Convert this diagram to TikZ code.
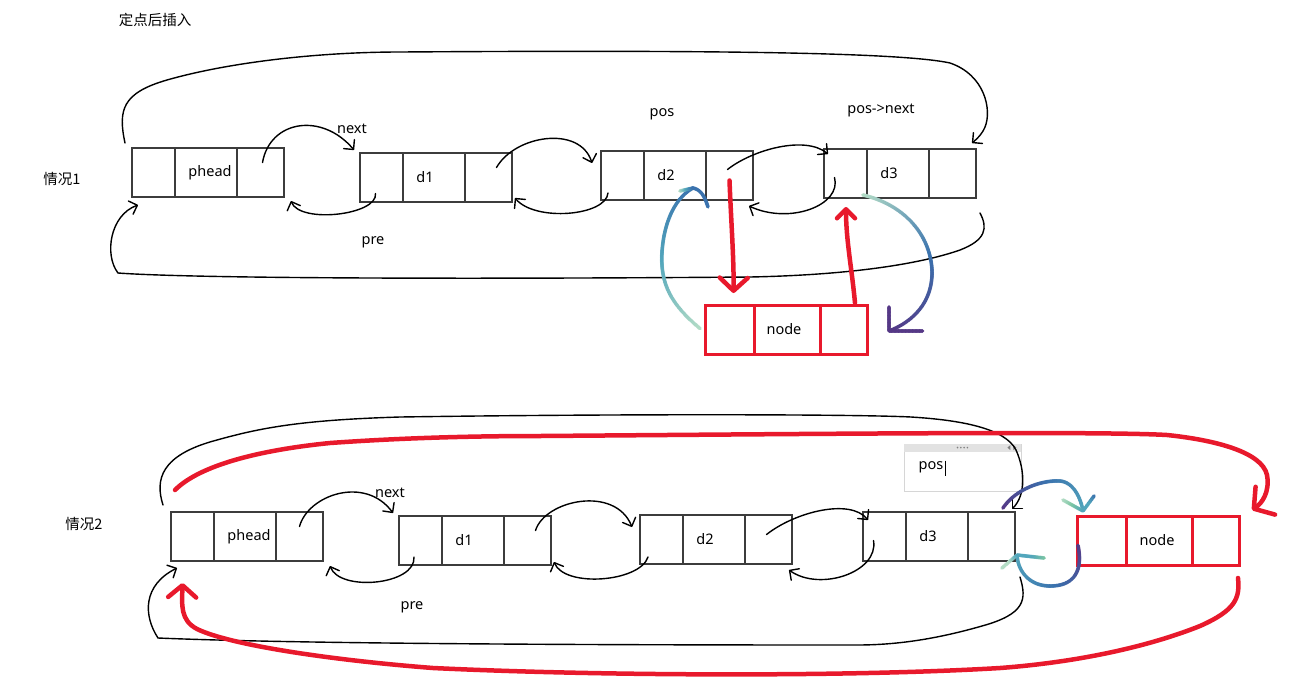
\documentclass[tikz,border=0pt]{standalone}
\usepackage{fontspec}
\setmainfont{Noto Sans}
\newfontfamily\cjk{Noto Sans CJK SC}
\usetikzlibrary{arrows.meta,calc,positioning,decorations.markings}
\definecolor{boxline}{HTML}{3C3C3C}
\definecolor{hotred}{HTML}{E8192C}
\definecolor{bpale}{HTML}{B4DDC6}
\definecolor{bgreen}{HTML}{7CC6A4}
\definecolor{bteal}{HTML}{52A6BC}
\definecolor{bblue}{HTML}{3A72AE}
\definecolor{bpurp}{HTML}{553886}
\definecolor{panelfill}{HTML}{E2E2E2}
\definecolor{panelline}{HTML}{D6D6D6}
\tikzset{
        cell/.style = {draw=boxline, line width=1.2pt, minimum height=49pt,
            inner sep=0pt, outer sep=0pt},
        hotcell/.style = {cell, draw=hotred, line width=3pt},
        lbl/.style = {inner sep=0pt, font=\fontsize{14.5}{16}\selectfont},
        hand/.style = {draw, line width=1.4pt, line cap=round,
            -{Straight Barb[length=7pt,width=14pt,round]}},
        hot/.style = {draw=hotred, line width=4.5pt, line cap=round,
            -{Straight Barb[length=13pt,width=28pt,round]}},
        panel/.style = {draw=panelline, fill=white, line width=0.8pt,
            minimum width=117pt, minimum height=47pt, inner sep=0pt},
        brush/.style n args = {3}{
            decoration={markings,
              mark=between positions 0 and 1 step 0.7pt with {%
                \pgfmathsetmacro\brf{(\pgfkeysvalueof{/pgf/decoration/mark info/distance from start})/(\pgfdecoratedpathlength)}%
                \ifdim\brf pt<0.5pt
                  \pgfmathtruncatemacro\brp{min(100,max(0,200*\brf))}%
                  \colorlet{brc}{#2!\brp!#1}%
                \else
                  \pgfmathtruncatemacro\brp{min(100,max(0,200*\brf-100))}%
                  \colorlet{brc}{#3!\brp!#2}%
                \fi
                \fill[brc] (0,0) circle (1.9pt);
              }},
            decorate},
    }
% list node: name, top left corner, text, text shift
\newcommand{\listnode}[4]{%
  \node[cell, minimum width=43pt, anchor=north west] (#1l) at (#2) {};
  \node[cell, minimum width=62pt, right=0pt of #1l] (#1m) {};
  \node[cell, minimum width=47pt, right=0pt of #1m] (#1r) {};
  \node[lbl] (#1t) at ([xshift=#4]#1m.center) {#3};
}
% inserted node in red
\newcommand{\insnode}[4]{%
  \node[hotcell, minimum width=49pt, anchor=north west] (#1l) at (#2) {};
  \node[hotcell, minimum width=66pt, right=0pt of #1l] (#1m) {};
  \node[hotcell, minimum width=47pt, right=0pt of #1m] (#1r) {};
  \node[lbl] (#1t) at ([xshift=#4]#1m.center) {#3};
}

\begin{document}
\begin{tikzpicture}[x=1pt,y=-1pt]
\path[use as bounding box, fill=white] (0,0) rectangle (1314,694);

\node[lbl] (title) at (155,20) {\cjk 定点后插入};
\node[lbl] (case1) at (62,179) {\cjk 情况1};
\node[lbl] (case2) at (84,524) {\cjk 情况2};

% case 1
\listnode{h1}{132,148}{phead}{4pt}
\listnode{a1}{360,153}{d1}{-9pt}
\listnode{b1}{601,151}{d2}{-9pt}
\listnode{c1}{824,149}{d3}{-9pt}
\insnode{n1}{705,305}{node}{-3pt}

\node[lbl] (nx1) at (352,129) {next};
\node[lbl] (pr1) at (373,242) {pre};
\node[lbl] (pos1) at (662,114) {pos};
\node[lbl] (pn1) at (881,110) {pos->next};

\draw[hand] ([shift={(2,-10)}]h1r.center) .. controls (270,120) and (322,112) .. ([shift={(-6,-3)}]a1l.north west);
\draw[hand] ([shift={(-6,16)}]a1l.center) .. controls (378,215) and (300,224) .. ([shift={(7,4)}]h1r.south east);
\draw[hand] ([shift={(8,-10)}]a1r.center) .. controls (515,135) and (580,125) .. ([shift={(-9,12)}]b1l.north west);
\draw[hand] ([shift={(7,-7)}]b1l.south west) .. controls (606,216) and (535,222) .. ([shift={(3,-4)}]a1r.south east);
\draw[hand] ([shift={(-2,-6)}]b1r.center) .. controls (752,150) and (805,135) .. ([shift={(4,5)}]c1l.north west);
\draw[hand] ([shift={(-11,4)}]c1l.center) .. controls (842,205) and (790,225) .. ([shift={(-4,6)}]b1r.south east);
\draw[hand] ([shift={(-7,-5)}]h1l.north west) .. controls (118,110) and (122,93) .. (167,80)
    .. controls (230,62) and (320,52) .. (400,52) .. controls (700,50) and (900,52) .. (950,63)
    .. controls (985,75) and (992,110) .. (985,127) .. controls (982,134) and (978,138) .. ([shift={(-4,-6)}]c1r.north east);
\draw[hand] ([shift={(4,15)}]c1r.south east) .. controls (988,228) and (986,240) .. (960,250)
    .. controls (920,264) and (850,275) .. (750,277) .. controls (500,279) and (200,279) .. (118,273)
    .. controls (104,255) and (110,215) .. ([shift={(6,8)}]h1l.south west);

\draw[hot] ([shift={(0,5)}]b1r.center) .. controls (731,220) and (734,260) .. ([shift={(4,-12)}]n1l.north);
\draw[hot, -{Straight Barb[length=9pt,width=18pt,round]}] ([shift={(11.5,-2)}]n1r.north) .. controls (852,270) and (846,240) .. ([shift={(0.5,9)}]c1l.south);

\coordinate (t1) at ([shift={(-13,-12)}]b1m.south east);
\path[brush={bpale}{bteal}{bblue}] ([shift={(-5,-1)}]n1l.west) .. controls (672,305) and (660,285) .. (662,252)
    .. controls (664,222) and (675,198) .. (t1);
\path[brush={bpale}{bteal}{bblue}] ([shift={(-13,3)}]t1) -- (t1);
\path[brush={bblue}{bblue}{bblue}] (t1) .. controls (702,190) and (705,198) .. ([shift={(15,19)}]t1);
\coordinate (t2) at ([shift={(22,26)}]n1r.north east);
\path[brush={bpale}{bblue}{bpurp}] ([shift={(-4,-3)}]c1m.south west) .. controls (905,205) and (930,235) .. (932,270)
    .. controls (933,303) and (912,322) .. (t2);
\path[brush={bpurp}{bpurp}{bpurp}] ([shift={(0,-24)}]t2) -- (t2) -- ([shift={(34,0)}]t2);

% case 2
\node[panel] (pb) at (962.5,467.5) {};
\fill[panelfill] ([shift={(0.4,0.4)}]pb.north west) rectangle ([shift={(-0.4,8)}]pb.north east);
\foreach \i in {0,...,3}
  \fill[gray] ([shift={(-5+\i*3.3,4)}]pb.north) circle (0.9pt);
\fill[gray] ([shift={(-14,4)}]pb.north east) -- ++(3,-2.5) -- ++(0,5) -- cycle;
\fill[gray] ([shift={(-5,4)}]pb.north east) -- ++(-3,-2.5) -- ++(0,5) -- cycle;
\node[lbl] (pt) at ([shift={(-31.5,0)}]pb.center) {pos};
\draw[line width=0.8pt] ([shift={(1.5,-7)}]pt.east) -- ([shift={(1.5,8)}]pt.east);

\listnode{h2}{171,512}{phead}{4pt}
\listnode{a2}{399,516}{d1}{-9pt}
\listnode{b2}{640,515}{d2}{-9pt}
\listnode{c2}{863,512}{d3}{-9pt}
\insnode{n2}{1077,516}{node}{-2pt}

\node[lbl] (nx2) at (390,493) {next};
\node[lbl] (pr2) at (412,607) {pre};

\draw[hand] ([shift={(0,-10)}]h2r.center) .. controls (308,495) and (365,475) .. ([shift={(-6,-3)}]a2l.north west);
\draw[hand] ([shift={(15,-8)}]a2l.south west) .. controls (416,585) and (340,592) .. ([shift={(7,5)}]h2r.south east);
\draw[hand] ([shift={(8,-10)}]a2r.center) .. controls (545,500) and (615,485) .. ([shift={(-8,12)}]b2l.north west);
\draw[hand] ([shift={(8,-7)}]b2l.south west) .. controls (640,582) and (565,588) .. ([shift={(3,-3)}]a2r.south east);
\draw[hand] ([shift={(-2,-5)}]b2r.center) .. controls (795,512) and (850,498) .. ([shift={(5,8)}]c2l.north west);
\draw[hand] ([shift={(-11,4)}]c2l.center) .. controls (879,572) and (820,592) .. ([shift={(-3,6)}]b2r.south east);
\draw[hand] ([shift={(-8,-7)}]h2l.north west) .. controls (155,480) and (160,455) .. (217,440)
    .. controls (260,428) and (300,420) .. (400,417) .. controls (600,414) and (850,414) .. (911,417)
    .. controls (960,420) and (1005,428) .. (1016,450) .. controls (1025,470) and (1026,495) .. ([shift={(-3,-3)}]c2r.north east);
\draw[hand] ([shift={(5,16)}]c2r.south east) .. controls (1027,600) and (1025,614) .. (982,626)
    .. controls (940,638) and (900,645) .. (857,645) .. controls (600,645) and (300,644) .. (158,638)
    .. controls (143,615) and (143,585) .. ([shift={(6,7)}]h2l.south west);

\draw[hot, -{Straight Barb[length=14pt,width=34pt,round]}] ([shift={(4,-22)}]h2l.north west) .. controls (200,465) and (260,450) .. (330,443)
    .. controls (400,438) and (470,436) .. (540,436) .. controls (800,434) and (1100,431) .. (1167,435)
    .. controls (1215,440) and (1262,452) .. (1267,475) .. controls (1270,492) and (1262,503) .. ([shift={(13,-6)}]n2r.north east);
\draw[hot, -{Straight Barb[length=12pt,width=28pt,round]}] ([shift={(-1,13)}]n2r.south east) .. controls (1240,598) and (1236,610) .. (1200,626)
    .. controls (1150,646) and (1080,662) .. (1000,668) .. controls (850,677) and (600,676) .. (433,668)
    .. controls (330,660) and (230,645) .. (197,629) .. controls (180,620) and (182,605) .. ([shift={(-10,22)}]h2l.south);

\coordinate (t3) at ([shift={(6,-5)}]n2l.north west);
\path[brush={bpurp}{bblue}{bteal}] ([shift={(-12,-4)}]c2r.north east) .. controls (1015,490) and (1040,480) .. (1060,481)
    .. controls (1072,482) and (1080,495) .. (t3);
\path[brush={bpale}{bgreen}{bteal}] ([shift={(-20,-11)}]t3) -- (t3);
\path[brush={bblue}{bteal}{bteal}] ([shift={(11,-15)}]t3) -- (t3);
\coordinate (t4) at ([shift={(2,-6)}]c2r.south east);
\path[brush={bpurp}{bblue}{bteal}] ([shift={(1,5)}]n2l.west) .. controls (1083,570) and (1075,586) .. (1050,586)
    .. controls (1030,586) and (1018,572) .. (t4);
\path[brush={bpale}{bpale}{bteal}] ([shift={(-15,13)}]t4) -- (t4);
\path[brush={bgreen}{bteal}{bteal}] ([shift={(27,3)}]t4) -- (t4);
\end{tikzpicture}
\end{document}
